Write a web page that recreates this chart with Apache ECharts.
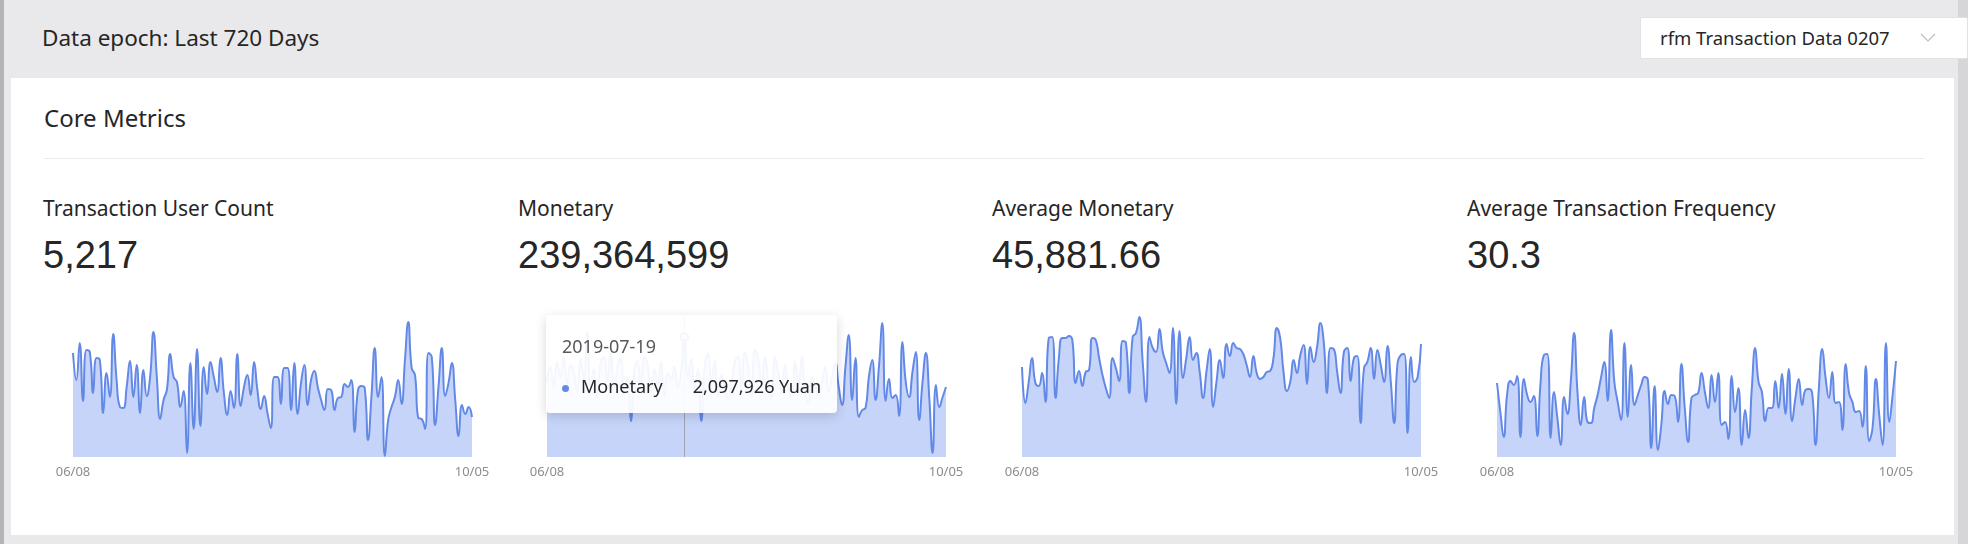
<!DOCTYPE html>
<html>
<head>
<meta charset="utf-8">
<script src="https://cdn.jsdelivr.net/npm/echarts@6/dist/echarts.min.js"></script>
<style>
  html, body { margin: 0; padding: 0; }
  body { width: 1968px; height: 544px; background: #e9e9eb; position: relative; overflow: hidden;
         font-family: "Noto Sans", "Open Sans", sans-serif; color: #262626; }
  .abs { position: absolute; white-space: nowrap; }
  .edge-l { left: 0; top: 0; width: 4px; height: 544px; background: #b4b4b6; }
  .edge-r { left: 1958px; top: 0; width: 10px; height: 544px; background: #d6d6d8; }
  .epoch { left: 42px; top: 27px; font-size: 22.5px; line-height: 22px; }
  .select { left: 1640px; top: 17px; width: 307px; height: 40px; background: #fff; border: 1px solid #e2e2e4;
            border-radius: 2px; font-size: 18.5px; line-height: 40px; padding-left: 19px; box-sizing: content-box; }
  .select svg { position: absolute; left: 279px; top: 15px; }
  .card { left: 11px; top: 78px; width: 1943px; height: 457px; background: #fff; }
  .core { left: 44px; top: 106px; font-size: 24px; line-height: 24px; }
  .sep { left: 44px; top: 158px; width: 1880px; height: 1px; background: #ebebeb; }
  .title { top: 198px; font-size: 21px; line-height: 21px; }
  .num { top: 236px; font-size: 38px; line-height: 38px; font-family: "Liberation Sans", Arial, sans-serif; }
  #chart { position: absolute; left: 0; top: 0; width: 1968px; height: 544px; }
</style>
</head>
<body>
<div class="abs edge-l"></div>
<div class="abs edge-r"></div>
<div class="abs epoch">Data epoch: Last 720 Days</div>
<div class="abs select">rfm Transaction Data 0207
  <svg width="16" height="10" viewBox="0 0 16 10"><polyline points="1,1 8,8 15,1" fill="none" stroke="#bdbdbd" stroke-width="1.2"/></svg>
</div>
<div class="abs card"></div>
<div class="abs core">Core Metrics</div>
<div class="abs sep"></div>
<div id="texts"></div>
<div id="chart"></div>
<script>
// metric cards
var titles = ['Transaction User Count', 'Monetary', 'Average Monetary', 'Average Transaction Frequency'];
var totals = ['5,217', '239,364,599', '45,881.66', '30.3'];
var colLeft = [43, 518, 992, 1467];

// 120 days, 2019-06-08 .. 2019-10-05
var startDay = Date.UTC(2019, 5, 8);
var dayCount = 120;
var dates = [];
for (var d = 0; d < dayCount; d++) {
    dates.push(new Date(startDay + d * 86400000).toISOString().slice(0, 10));
}

var userCount = [
    104,77,114,56,107,105,64,99,97,44,
    84,60,123,77,50,49,70,96,60,92,
    44,87,61,80,125,80,38,57,67,103,
    80,75,50,66,4,94,28,108,31,90,
    63,95,80,65,99,64,42,66,49,103,
    51,70,82,62,95,67,48,61,44,29,
    80,80,53,89,89,47,94,43,74,92,
    52,77,86,70,57,47,68,67,47,59,
    60,73,70,77,25,67,71,69,17,60,
    109,60,80,1,37,50,60,77,53,97,
    135,89,82,39,38,28,104,100,32,70,
    109,61,74,94,57,21,52,43,50,40
];
var monetary = [
    1312500,1575000,1225000,1662500,1400000,1750000,1260000,1610000,1487500,1137500,
    1715000,1365000,2187500,1225000,1540000,1050000,1662500,1750000,1312500,1837500,
    1190000,1575000,1715000,1085000,1400000,630000,1487500,1680000,1225000,1750000,
    1610000,1155000,1540000,1260000,1662500,1050000,1470000,1365000,1575000,1225000,
    1487500,2097926,1400000,1715000,1155000,1540000,630000,1575000,1820000,1312500,
    1680000,1050000,1435000,1225000,1015000,1295000,1662500,1750000,1190000,1837500,
    1575000,1085000,1872500,1715000,1225000,1750000,1330000,1015000,1750000,1470000,
    1155000,1610000,1225000,1050000,1662500,1260000,1750000,1120000,962500,1400000,
    1225000,1085000,1312500,1575000,1137500,1400000,1645000,1225000,910000,1575000,
    2135000,997500,1732500,700000,822500,857500,1400000,1697500,997500,1575000,
    2345000,980000,1365000,1032500,1085000,717500,2012500,1312500,1050000,1487500,
    1837500,647500,1312500,1820000,1050000,70000,1260000,875000,1050000,1225000
];
var avgMonetary = [
    45000,27000,37500,49500,37000,35500,42000,27500,59500,60000,
    29500,49500,59500,59500,60500,58500,37000,43000,35500,42500,
    43500,59500,58500,49500,41000,34500,29500,49500,44500,38000,
    58000,57000,32000,60000,62000,70000,47500,27500,60000,54500,
    52500,64000,52500,47000,42000,64500,26500,63000,39500,49500,
    60000,48500,52000,42500,29500,42500,54000,25000,37500,48500,
    39500,56500,50500,57000,54500,54000,51500,46000,40000,50500,
    42000,39000,40000,42500,43000,49500,64500,59500,42500,33000,
    37500,48500,42000,51000,56000,36500,55000,47500,55000,67000,
    57500,32000,54500,54000,42500,32000,52500,54500,38000,49500,
    50500,17000,44500,47500,54500,39000,53500,46000,37500,55500,
    37500,17000,47000,51000,51500,12000,50000,37500,40000,56500
];
var avgFrequency = [
    37,22.5,10,31,38,36,40.5,10,39,31,
    27.5,30.5,10.5,37.5,51,51.5,9.5,32.5,19.5,6,
    30,21.5,37.5,62,32.5,16,30,17.5,17,24.5,
    31,39.5,47.5,28,63.5,37.5,27.5,18.5,57,20,
    46,26,31,36,40,38.5,4.5,35.5,3.5,16,
    33,26.5,31,30.5,17.5,46.5,24.5,7.5,29.5,31,
    32,42,32.5,24.5,41,27.5,42,16,17.5,9,
    40.5,22.5,34.5,6,23.5,9.5,34.5,54.5,37.5,32.5,
    18,24.5,24.5,38,24.5,41.5,21.5,44,18,29.5,
    39,26,33.5,34,32,6,34.5,54,39.5,29.5,
    42.5,27,27.5,13.5,46.5,32,27.5,22.5,23,15,
    45.5,8,14.5,39,21,6,57,17.5,31,48
];
var seriesData = [userCount, monetary, avgMonetary, avgFrequency];
var axisMax = [142, 2485000, 71000, 71];
var hoverIndex = 41; // 2019-07-19

var html = '';
for (var i = 0; i < 4; i++) {
    html += '<div class="abs title" style="left:' + colLeft[i] + 'px">' + titles[i] + '</div>';
    html += '<div class="abs num" style="left:' + colLeft[i] + 'px">' + totals[i] + '</div>';
}
document.getElementById('texts').innerHTML = html;

var lineColor = '#6389e6';
var areaColor = '#c6d4fa';
var plotLeft = [73, 547, 1022, 1497];
var grids = [], xAxes = [], yAxes = [], series = [];
for (var k = 0; k < 4; k++) {
    grids.push({ left: plotLeft[k], top: 315, width: 399, height: 142 });
    xAxes.push({
        type: 'category', gridIndex: k, data: dates, boundaryGap: false,
        axisLine: { show: false }, axisTick: { show: false }, splitLine: { show: false },
        axisLabel: {
            color: '#8c8c8c', fontSize: 13, fontFamily: 'Noto Sans', margin: 9,
            interval: function (idx) { return idx === 0 || idx === dayCount - 1; },
            formatter: function (v) { return v.slice(5).replace('-', '/'); }
        }
    });
    yAxes.push({ type: 'value', gridIndex: k, min: 0, max: axisMax[k], show: false });
    series.push({
        name: titles[k], type: 'line', xAxisIndex: k, yAxisIndex: k,
        data: seriesData[k], smooth: true, showSymbol: false, symbolSize: 7,
        lineStyle: { color: lineColor, width: 2 },
        itemStyle: { color: lineColor },
        areaStyle: { color: areaColor, opacity: 1 },
        emphasis: {
            lineStyle: { color: lineColor, width: 2 },
            areaStyle: { color: areaColor, opacity: 1 }
        }
    });
}

var myChart = echarts.init(document.getElementById('chart'));
myChart.setOption({
    animation: false,
    grid: grids,
    xAxis: xAxes,
    yAxis: yAxes,
    tooltip: {
        trigger: 'axis',
        triggerOn: 'none',
        alwaysShowContent: true,
        transitionDuration: 0,
        position: [546, 315],
        padding: [16, 16, 12, 16],
        backgroundColor: 'rgba(255,255,255,0.92)',
        borderWidth: 0,
        extraCssText: 'box-shadow:0 3px 12px rgba(0,0,0,0.16);border-radius:4px;',
        axisPointer: { type: 'line', lineStyle: { color: '#9ea3ad', width: 1, type: 'solid' } },
        formatter: function (params) {
            var p = params[0];
            return '<div style="font-family:Noto Sans;font-size:18px;line-height:30px;color:#595959">' + p.axisValue + '</div>' +
                '<div style="font-family:Noto Sans;font-size:18px;line-height:30px;color:#262626;margin-top:10px">' +
                '<span style="display:inline-block;width:7px;height:7px;border-radius:50%;background:' + lineColor +
                ';margin-right:12px;vertical-align:middle"></span>' + p.seriesName +
                '<span style="margin-left:30px">' + echarts.format.addCommas(p.value) + ' Yuan</span></div>';
        }
    },
    series: series
});
myChart.dispatchAction({ type: 'showTip', seriesIndex: 1, dataIndex: hoverIndex });
</script>
</body>
</html>
